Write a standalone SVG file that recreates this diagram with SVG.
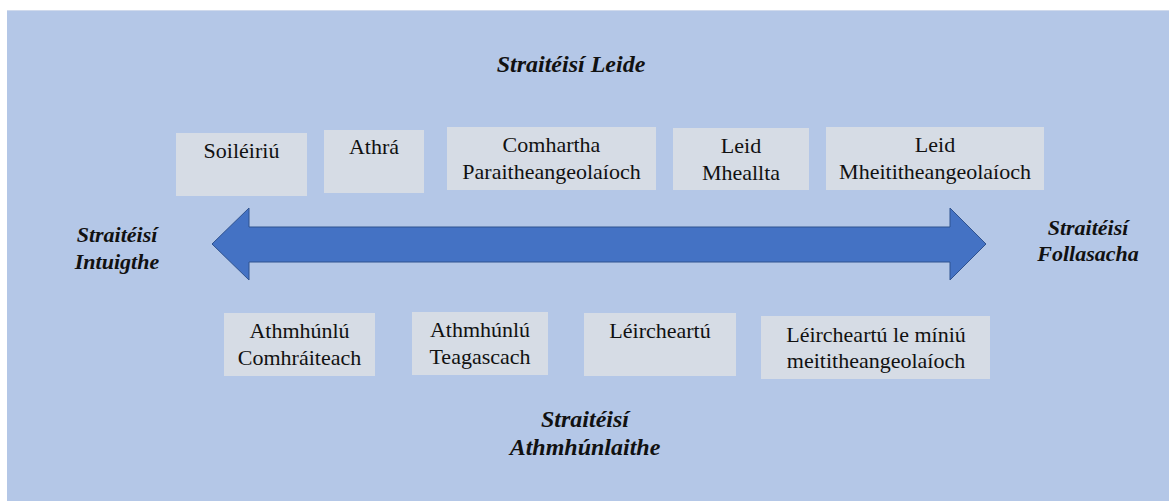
<svg xmlns="http://www.w3.org/2000/svg" width="1169" height="501" viewBox="0 0 1169 501">
<style>
.bg{fill:#B4C7E7}
.box{fill:#D6DCE5}
.t{font-family:'Liberation Serif','Times New Roman',Tinos,'DejaVu Serif',serif;font-size:22px;fill:#111;text-anchor:middle}
.h{font-family:'Liberation Serif','Times New Roman',Tinos,'DejaVu Serif',serif;font-weight:bold;font-style:italic;fill:#111;text-anchor:middle}
.arrow{fill:#4472C4;stroke:#2F528F;stroke-width:1}
</style>
<rect x="0" y="0" width="1169" height="501" fill="#FFFFFF"/>
<rect class="bg" x="7" y="10" width="1162" height="491"/>
<line x1="7" y1="10.5" x2="1169" y2="10.5" stroke="#D0DAEC" stroke-width="1"/>
<g id="connectors">
<polygon class="arrow" points="212,244 249,208 249,227 950,227 950,208 986,244 950,280 950,262 249,262 249,280"/>
</g>
<g id="title-top"><text class="h" x="571" y="72" font-size="24">Straitéisí Leide</text></g>
<g id="title-left"><text class="h" x="117" y="242" font-size="22">Straitéisí</text><text class="h" x="117" y="269" font-size="22">Intuigthe</text></g>
<g id="title-right"><text class="h" x="1088" y="235" font-size="22">Straitéisí</text><text class="h" x="1088" y="261" font-size="22">Follasacha</text></g>
<g id="title-bottom"><text class="h" x="585" y="427" font-size="24">Straitéisí</text><text class="h" x="585" y="455" font-size="24">Athmhúnlaithe</text></g>
<g id="n-soileiriu"><rect class="box" x="176" y="133" width="131" height="63"/><text class="t" x="241.5" y="158">Soiléiriú</text></g>
<g id="n-athra"><rect class="box" x="324" y="130" width="100" height="63"/><text class="t" x="374" y="154">Athrá</text></g>
<g id="n-comhartha"><rect class="box" x="447" y="127" width="209" height="63"/><text class="t" x="551.5" y="152">Comhartha</text><text class="t" x="551.5" y="179">Paraitheangeolaíoch</text></g>
<g id="n-leid-mheallta"><rect class="box" x="673" y="128" width="136" height="62"/><text class="t" x="741" y="153">Leid</text><text class="t" x="741" y="180">Mheallta</text></g>
<g id="n-leid-mheit"><rect class="box" x="826" y="127" width="218" height="63"/><text class="t" x="935" y="152">Leid</text><text class="t" x="935" y="179">Mheititheangeolaíoch</text></g>
<g id="n-athmh-comh"><rect class="box" x="224" y="313" width="151" height="63"/><text class="t" x="299.5" y="338">Athmhúnlú</text><text class="t" x="299.5" y="365">Comhráiteach</text></g>
<g id="n-athmh-teag"><rect class="box" x="412" y="312" width="136" height="63"/><text class="t" x="480" y="337">Athmhúnlú</text><text class="t" x="480" y="364">Teagascach</text></g>
<g id="n-leirch"><rect class="box" x="584" y="313" width="152" height="63"/><text class="t" x="660" y="338">Léircheartú</text></g>
<g id="n-leirch-miniu"><rect class="box" x="761" y="316" width="229" height="63"/><text class="t" x="876" y="342">Léircheartú le míniú</text><text class="t" x="876" y="368">meititheangeolaíoch</text></g>
</svg>
